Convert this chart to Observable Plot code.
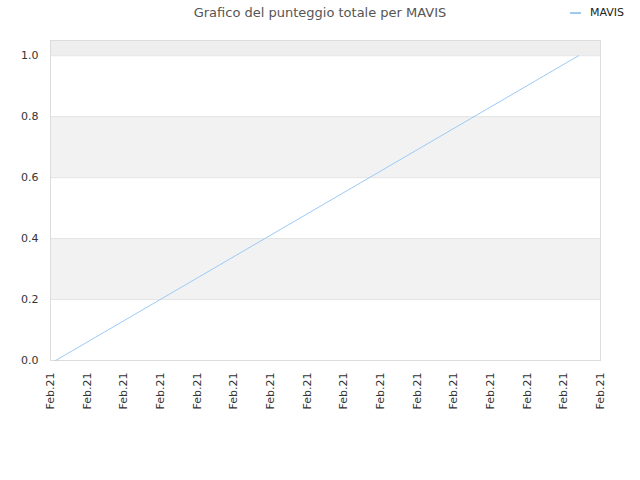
<!DOCTYPE html>
<html><head><meta charset="utf-8">
<script src="https://cdn.jsdelivr.net/npm/d3@7"></script>
<script src="https://cdn.jsdelivr.net/npm/@observablehq/plot@0.6"></script>
<style>
body{margin:0;background:#fff;font-family:"DejaVu Sans",sans-serif;}
#wrap{position:relative;width:640px;height:480px;}
#title{position:absolute;top:5px;left:0;width:640px;text-align:center;font-size:13px;color:#555;}
#legend{position:absolute;top:6px;left:570px;font-size:11px;color:#222;display:flex;align-items:center;}
#legend span.sw{display:inline-block;width:11px;height:2px;background:#9ccaf5;margin-right:9px;}
</style></head>
<body>
<div id="wrap">
<div id="title">Grafico del punteggio totale per MAVIS</div>
<div id="legend"><span class="sw"></span>MAVIS</div>
</div>
<script>
const tickPositions = [0,1,2,3,4,5,6,7,8,9,10,11,12,13,14,15];
const tickLabel = "Feb.21";
const xs = [0.14, 14.4];
const scores = [0, 1];
const bandStarts = [0.2, 0.6, 1.0];
const bandEnds = [0.4, 0.8, 1.05];
const bandFills = ["#f2f2f2", "#f2f2f2", "#eeeeee"];
const yTicks = [0, 0.2, 0.4, 0.6, 0.8, 1.0];

const pts = xs.map((x, i) => ({x, y: scores[i]}));
const bands = bandStarts.map((s, i) => ({y1: s, y2: bandEnds[i], fill: bandFills[i]}));

const chart = Plot.plot({
  width: 640, height: 480,
  marginLeft: 50, marginRight: 40, marginTop: 40, marginBottom: 120,
  style: {fontFamily: "DejaVu Sans, sans-serif", fontSize: "11px", color: "#333", background: "transparent"},
  x: {domain: [0, 15]},
  y: {domain: [0, 1.05]},
  marks: [
    Plot.rectY(bands, {x1: 0, x2: 15, y1: "y1", y2: "y2", fill: "fill"}),
    Plot.ruleY(yTicks, {stroke: "#e4e4e4"}),
    Plot.frame({stroke: "#dcdcdc"}),
    Plot.line(pts, {x: "x", y: "y", stroke: "#9ccaf5", strokeWidth: 1}),
    Plot.axisY(yTicks, {tickSize: 0, tickPadding: 12, tickFormat: d => d.toFixed(1), label: null}),
    Plot.axisX(tickPositions, {tickSize: 0, tickPadding: 12, tickRotate: -90, tickFormat: () => tickLabel, label: null})
  ]
});
chart.style.position = "absolute";
chart.style.left = "0";
chart.style.top = "0";
document.getElementById("wrap").prepend(chart);
</script>
</body></html>
